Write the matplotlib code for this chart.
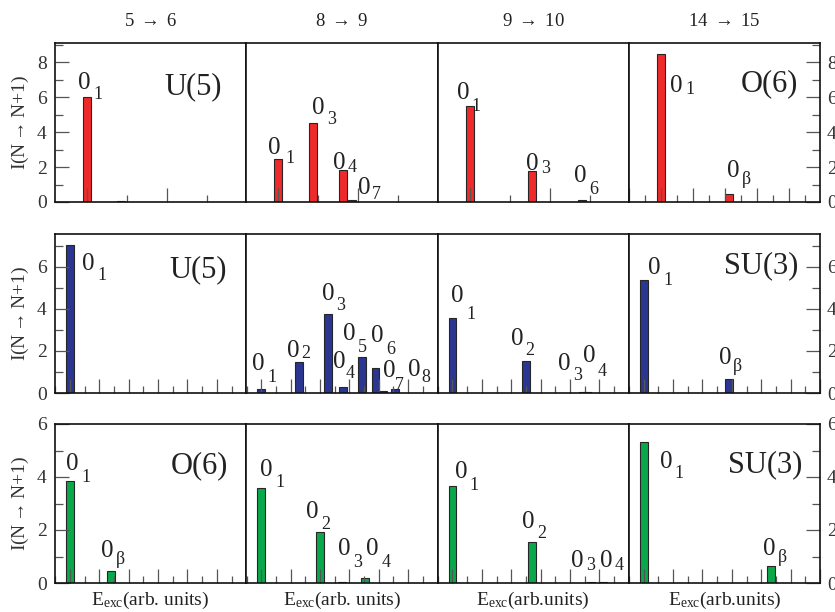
import matplotlib
matplotlib.use("Agg")
import matplotlib.pyplot as plt
from matplotlib.ticker import MultipleLocator

plt.rcParams['font.family'] = ['Liberation Serif', 'DejaVu Serif']
plt.rcParams['mathtext.fontset'] = 'custom'
plt.rcParams['mathtext.rm'] = 'Liberation Serif'
plt.rcParams['mathtext.it'] = 'Liberation Serif:italic'

# ---------------- data ----------------
transitions = ["5 $\\rightarrow$ 6", "8 $\\rightarrow$ 9", "9 $\\rightarrow$ 10", "14 $\\rightarrow$ 15"]
row_colors = ["#ee2a2a", "#2b3592", "#08a84b"]
limit_names = {(0, 0): "U(5)", (0, 3): "O(6)",
               (1, 0): "U(5)", (1, 3): "SU(3)",
               (2, 0): "O(6)", (2, 3): "SU(3)"}
xlabels = ["E$_{\\mathrm{exc}}$(arb. units)", "E$_{\\mathrm{exc}}$(arb. units)",
           "E$_{\\mathrm{exc}}$(arb.units)", "E$_{\\mathrm{exc}}$(arb.units)"]
ylabel = "I(N$\\rightarrow$N+1)"

# Row 1 (red)
red_5_6_E = [0.0, 0.42]
red_5_6_I = [6.0, 0.03]
red_5_6_lab = ["1", ""]
red_8_9_E = [0.0, 0.44, 0.81, 0.92]
red_8_9_I = [2.45, 4.5, 1.85, 0.1]
red_8_9_lab = ["1", "3", "4", "7"]
red_9_10_E = [0.0, 0.775, 1.41]
red_9_10_I = [5.5, 1.8, 0.14]
red_9_10_lab = ["1", "3", "6"]
red_14_15_E = [0.0, 2.14]
red_14_15_I = [8.45, 0.48]
red_14_15_lab = ["1", "β"]

# Row 2 (blue)
blue_5_6_E = [0.0]
blue_5_6_I = [7.05]
blue_5_6_lab = ["1"]
blue_8_9_E = [0.0, 1.29, 2.27, 2.79, 3.44, 3.89, 4.14, 4.54]
blue_8_9_I = [0.18, 1.45, 3.77, 0.3, 1.72, 1.18, 0.08, 0.17]
blue_8_9_lab = ["1", "2", "3", "4", "5", "6", "7", "8"]
blue_9_10_E = [0.0, 2.49, 4.44, 4.57]
blue_9_10_I = [3.58, 1.5, 0.05, 0.03]
blue_9_10_lab = ["1", "2", "3", "4"]
blue_14_15_E = [0.0, 2.91]
blue_14_15_I = [5.35, 0.68]
blue_14_15_lab = ["1", "β"]

# Row 3 (green)
green_5_6_E = [0.0, 1.39]
green_5_6_I = [3.85, 0.46]
green_5_6_lab = ["1", "β"]
green_8_9_E = [0.0, 1.99, 2.75, 3.53]
green_8_9_I = [3.6, 1.94, 0.03, 0.18]
green_8_9_lab = ["1", "2", "3", "4"]
green_9_10_E = [0.0, 2.70, 4.70, 5.13]
green_9_10_I = [3.66, 1.54, 0.04, 0.04]
green_9_10_lab = ["1", "2", "3", "4"]
green_14_15_E = [0.0, 4.34]
green_14_15_I = [5.31, 0.65]
green_14_15_lab = ["1", "β"]

panels = [
    [(red_5_6_E, red_5_6_I, red_5_6_lab), (red_8_9_E, red_8_9_I, red_8_9_lab),
     (red_9_10_E, red_9_10_I, red_9_10_lab), (red_14_15_E, red_14_15_I, red_14_15_lab)],
    [(blue_5_6_E, blue_5_6_I, blue_5_6_lab), (blue_8_9_E, blue_8_9_I, blue_8_9_lab),
     (blue_9_10_E, blue_9_10_I, blue_9_10_lab), (blue_14_15_E, blue_14_15_I, blue_14_15_lab)],
    [(green_5_6_E, green_5_6_I, green_5_6_lab), (green_8_9_E, green_8_9_I, green_8_9_lab),
     (green_9_10_E, green_9_10_I, green_9_10_lab), (green_14_15_E, green_14_15_I, green_14_15_lab)],
]

# ---------------- layout / style ----------------
# label offsets in pixels relative to bar top: (dx, dy, sub_dx, sub_drop)
label_offsets = [
    [[(-9.4, 8.4, 15.4, 10), None],
     [(-10, 5.3, 16.7, 9.3), (-1.8, 9.4, 15, 10), (-10.3, 1, 14.7, 3.4), (6.3, 6.7, 13.4, 5)],
     [(-13, 7, 15, 11.7), (-5.7, 1, 15.7, 3.3), (-8.2, 17.6, 14.7, 11.6)],
     [(9.2, -38, 15, 1.6), (-2.5, 16.6, 15, 7)]],
    [[(11.7, -25.7, 15.6, 10)],
     [(-9, 19, 15, 11.7), (-12.4, 5.6, 14.4, 1.6), (-6, 13.3, 14.4, 10), (-10.5, 18.4, 13.4, 10),
      (-19.5, 16.7, 15, 11.7), (-4.5, 26, 15, 11.6), (0, 14, 11.7, 12.3), (13, 13, 13.4, 5.7)],
     [(-1.7, 15.6, 15.7, 17), (-14.8, 16, 14, 10), (-24.7, 21.5, 15, 10), (-3.7, 30, 14.4, 13.3)],
     [(4.5, 6.7, 15, 11.7), (-10.2, 15, 14.3, 7)]],
    [[(-3.6, 11, 15, 11.7), (-9.5, 14, 15, 7)],
     [(-1.7, 11.7, 15.7, 10.7), (-13.6, 13.4, 15, 11), (-4.2, 27, 15, 11.7), (1.2, 23.3, 15, 11.7)],
     [(2.3, 7.7, 15, 11.7), (-9.9, 14, 15, 10), (-19.3, 15.3, 15, 3.3), (-3.5, 15.3, 15, 3.3)],
     [(16, -26, 15, 10), (-8.4, 10.7, 15, 7)]],
]
name_pos = {(0, 0): (0.873, 0.725), (0, 3): (0.885, 0.742),
            (1, 0): (0.898, 0.774), (1, 3): (0.885, 0.80),
            (2, 0): (0.905, 0.739), (2, 3): (0.906, 0.742)}

W, H = 835, 612
left_px, right_px = 55, 820
col_w = (right_px - left_px) / 4
rows_px = [(43, 202), (234, 393), (424, 583)]
ylims = [9.1, 7.55, 6.0]
xlims = [[(-0.4, 1.99)] * 3 + [(-1.0, 4.98)],
         [(-0.51, 6.0)] * 4,
         [(-0.51, 6.0)] * 4]
bar_w = [[0.1, 0.1, 0.1, 0.25], [0.27] * 4, [0.27] * 4]

text_col = "#222222"
tick_col = "#555555"

fig = plt.figure(figsize=(W / 100, H / 100), dpi=100)

for i, (top, bot) in enumerate(rows_px):
    for j in range(4):
        ax = fig.add_axes([(left_px + j * col_w) / W, 1 - bot / H, col_w / W, (bot - top) / H])
        E, I, lab = panels[i][j]
        ax.bar(E, I, width=bar_w[i][j], color=row_colors[i], edgecolor="#262626",
               linewidth=0.8, zorder=1)
        ax.set_xlim(*xlims[i][j])
        ax.set_ylim(0, ylims[i])
        for s in ax.spines.values():
            s.set_linewidth(1.2)
            s.set_color("#111111")
        ax.xaxis.set_major_locator(MultipleLocator(1))
        ax.xaxis.set_minor_locator(MultipleLocator(0.5))
        ax.yaxis.set_major_locator(MultipleLocator(2))
        ax.yaxis.set_minor_locator(MultipleLocator(1))
        ax.tick_params(axis='x', which='major', direction='in', length=10, width=0.9,
                       color=tick_col, labelbottom=False, top=False)
        ax.tick_params(axis='x', which='minor', direction='in', length=5, width=0.9,
                       color=tick_col, top=False)
        if j == 0:
            ax.tick_params(axis='y', which='both', direction='in', left=True, right=False,
                           labelleft=True, labelsize=14, labelcolor="#333333",
                           color=tick_col, width=0.9, pad=6)
            ax.tick_params(axis='y', which='major', length=10)
            ax.tick_params(axis='y', which='minor', length=5.5)
        elif j == 3:
            ax.tick_params(axis='y', which='both', direction='in', left=False, right=True,
                           labelleft=False, labelright=True, labelsize=14, labelcolor="#333333",
                           color=tick_col, width=0.9, pad=5)
            ax.tick_params(axis='y', which='major', length=10)
            ax.tick_params(axis='y', which='minor', length=5.5)
        else:
            ax.tick_params(axis='y', which='both', left=False, right=False,
                           labelleft=False, labelright=False)

        offs = label_offsets[i][j]
        for k, (e, v, l) in enumerate(zip(E, I, lab)):
            if not l or offs[k] is None:
                continue
            dx, dy, sdx, sdrop = offs[k]
            ax.annotate("0", xy=(e, v), xytext=(dx, dy), textcoords='offset pixels',
                        fontsize=18, ha='left', va='baseline', color=text_col,
                        annotation_clip=False)
            ax.annotate(l, xy=(e, v), xytext=(dx + sdx, dy - sdrop), textcoords='offset pixels',
                        fontsize=13, ha='left', va='baseline', color=text_col,
                        annotation_clip=False)

        if (i, j) in limit_names:
            px, py = name_pos[(i, j)]
            ax.text(px, py, limit_names[(i, j)], transform=ax.transAxes, fontsize=22,
                    ha='right', va='center', color=text_col)

        if i == 2:
            fig.text((left_px + (j + 0.5) * col_w) / W, 1 - 605 / H, xlabels[j],
                     fontsize=14, ha='center', va='baseline', color=text_col)
        if i == 0:
            fig.text((left_px + (j + 0.5) * col_w) / W, 1 - 21 / H, transitions[j],
                     fontsize=13.5, ha='center', va='center', color=text_col)

    fig.text(20 / W, 1 - (top + bot) / 2 / H, ylabel, rotation=90,
             fontsize=14, ha='center', va='center', color="#333333")

fig.savefig("out.png", dpi=100)
